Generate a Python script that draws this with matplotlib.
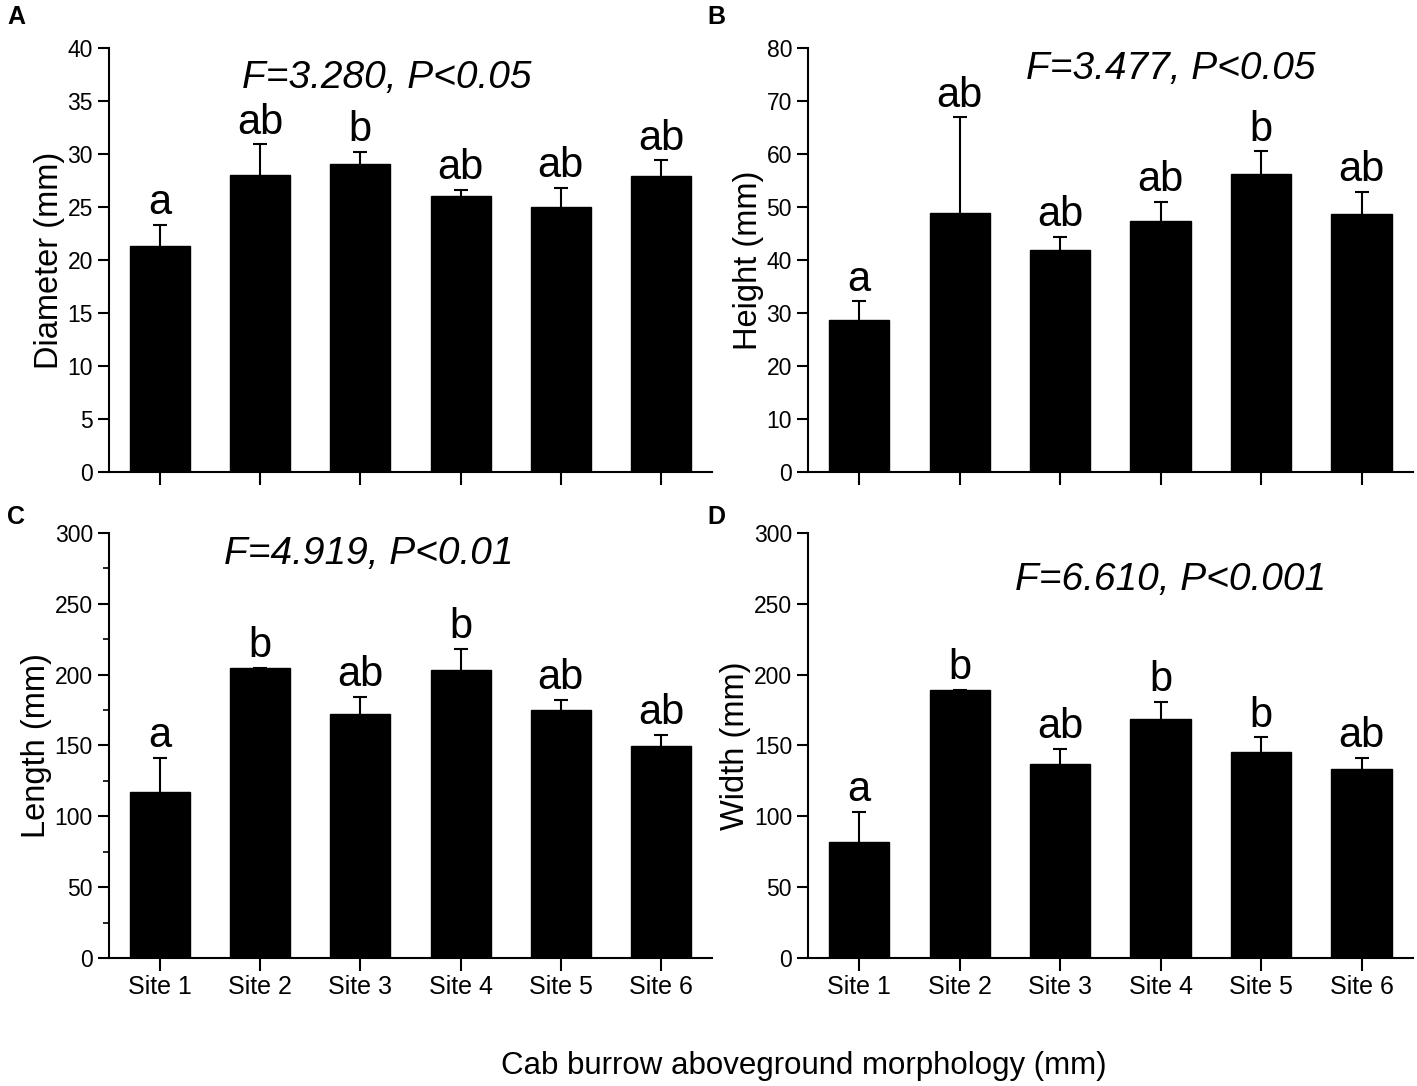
import numpy as np
import matplotlib.pyplot as plt
from matplotlib.ticker import MultipleLocator

plt.rcParams['font.family'] = ['Liberation Sans', 'DejaVu Sans']

sites = ['Site 1', 'Site 2', 'Site 3', 'Site 4', 'Site 5', 'Site 6']

# panel A: diameter
diameter = [21.3, 28.0, 29.1, 26.0, 25.0, 27.9]
diameter_err = [2.0, 2.9, 1.1, 0.6, 1.8, 1.5]
diameter_letters = ['a', 'ab', 'b', 'ab', 'ab', 'ab']

# panel B: height
height = [28.6, 48.8, 41.8, 47.4, 56.2, 48.6]
height_err = [3.6, 18.1, 2.6, 3.6, 4.3, 4.3]
height_letters = ['a', 'ab', 'ab', 'ab', 'b', 'ab']

# panel C: length
length = [117.1, 204.9, 172.3, 203.5, 175.0, 149.9]
length_err = [24.1, 0.0, 12.2, 14.8, 7.4, 7.4]
length_letters = ['a', 'b', 'ab', 'b', 'ab', 'ab']

# panel D: width
width = [82.2, 189.5, 136.9, 168.4, 145.6, 133.2]
width_err = [20.9, 0.0, 10.9, 12.4, 10.1, 8.0]
width_letters = ['a', 'b', 'ab', 'b', 'b', 'ab']

panels = [
    ('A', diameter, diameter_err, diameter_letters, 'Diameter (mm)', 40, 5, None, 'F=3.280, P<0.05'),
    ('B', height, height_err, height_letters, 'Height (mm)', 80, 10, None, 'F=3.477, P<0.05'),
    ('C', length, length_err, length_letters, 'Length (mm)', 300, 50, 25, 'F=4.919, P<0.01'),
    ('D', width, width_err, width_letters, 'Width (mm)', 300, 50, None, 'F=6.610, P<0.001'),
]

# axes rectangles in figure fraction
rects = [
    [0.0769, 0.5654, 0.4256, 0.3904],
    [0.5702, 0.5654, 0.4268, 0.3904],
    [0.0769, 0.1179, 0.4256, 0.3913],
    [0.5702, 0.1179, 0.4268, 0.3913],
]
stat_pos = [(0.46, 0.93), (0.60, 0.95), (0.43, 0.95), (0.60, 0.89)]
label_pos = [(0.005, 0.984), (0.499, 0.984), (0.005, 0.524), (0.499, 0.524)]

fig = plt.figure(figsize=(14.17, 10.86), dpi=100)
x = np.arange(len(sites))

for i, (tag, vals, errs, letters, ylab, ymax, major, minor, stat) in enumerate(panels):
    ax = fig.add_axes(rects[i])
    ax.bar(x, vals, width=0.6, color='black', edgecolor='black')
    eb = ax.errorbar(x, vals, yerr=[np.zeros(len(vals)), errs], fmt='none',
                     ecolor='black', elinewidth=1.5, capsize=5, capthick=1.5)
    # keep only the upper caps
    eb.lines[1][0].set_visible(False)
    for xi, v, e, lt in zip(x, vals, errs, letters):
        ax.text(xi, v + e + ymax * 0.004, lt, ha='center', va='bottom', fontsize=30)
    ax.set_xlim(-0.51, 5.51)
    ax.set_ylim(0, ymax)
    ax.yaxis.set_major_locator(MultipleLocator(major))
    if minor:
        ax.yaxis.set_minor_locator(MultipleLocator(minor))
        ax.tick_params(axis='y', which='minor', direction='out', length=4, width=1.2)
    else:
        ax.yaxis.set_minor_locator(plt.NullLocator())
    ax.set_xticks(x)
    if i >= 2:
        ax.set_xticklabels(sites, fontsize=18)
    else:
        ax.set_xticklabels([])
    ax.tick_params(axis='y', which='major', labelsize=16.5, direction='out', length=8, width=1.5)
    ax.tick_params(axis='x', direction='out', length=9, width=1.5, pad=3)
    for s in ['top', 'right']:
        ax.spines[s].set_visible(False)
    for s in ['left', 'bottom']:
        ax.spines[s].set_linewidth(1.5)
    ax.set_ylabel(ylab, fontsize=23.5, labelpad=2)
    ax.text(stat_pos[i][0], stat_pos[i][1], stat, transform=ax.transAxes,
            ha='center', va='center', fontsize=28, style='italic')
    fig.text(label_pos[i][0], label_pos[i][1], tag, fontsize=18, fontweight='bold',
             ha='left', va='center')

fig.text(0.567, 0.018, 'Cab burrow aboveground morphology (mm)', ha='center',
         va='center', fontsize=22.5)

fig.savefig('out.png', dpi=100)
